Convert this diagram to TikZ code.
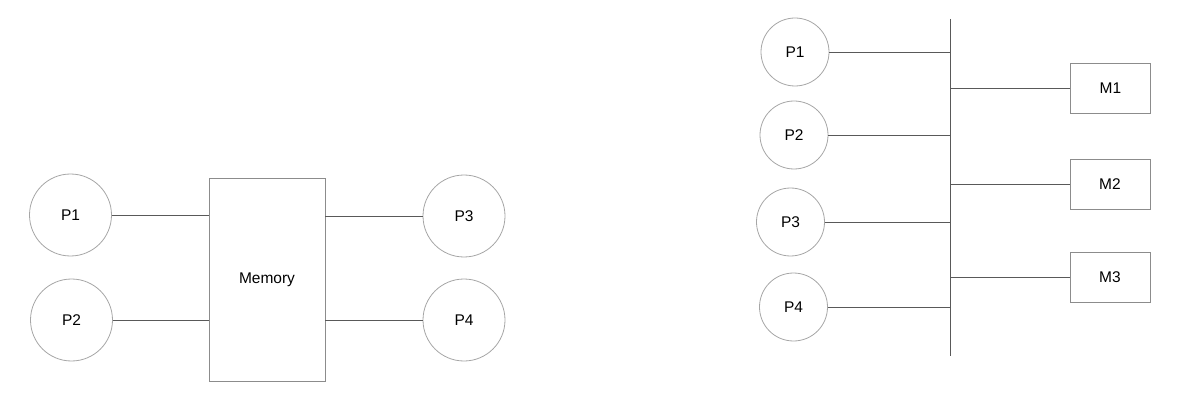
\documentclass[tikz,border=0pt]{standalone}
\usepackage{fontspec}
\setmainfont{Liberation Sans}
\usetikzlibrary{shapes}

\begin{document}
\begin{tikzpicture}[x=1pt, y=-1pt]

\tikzstyle{every node} = [font=\fontsize{15.5}{18}\selectfont, line width=0.8pt]
\tikzstyle{proc} = [circle, draw=black!35, minimum size=82pt, inner sep=0pt]
\tikzstyle{rproc} = [circle, draw=black!35, minimum size=68pt, inner sep=0pt]
\tikzstyle{mod} = [rectangle, draw=black!45, minimum width=80pt, minimum height=50pt]
\tikzstyle{wire} = [draw=black!65, line width=0.8pt]

\useasboundingbox (0,0) rectangle (1186,414);

% shared memory
\node (p1) [proc] at (70.5,215) {P1};
\node (p2) [proc] at (71.5,320) {P2};
\node (mem) [rectangle, draw=black!45, minimum width=116pt, minimum height=203pt] at (267,279.5) {Memory};
\node (p3) [proc] at (464,216) {P3};
\node (p4) [proc] at (464,320) {P4};

\draw[wire] (p1) -- (p1 -| mem.west);
\draw[wire] (p2) -- (p2 -| mem.west);
\draw[wire] (p3 -| mem.east) -- (p3);
\draw[wire] (p4 -| mem.east) -- (p4);

% bus
\coordinate (bt) at (950,19);
\coordinate (bb) at (950,356);
\draw[wire] (bt) -- (bb);

\node (q1) [rproc] at (795,52) {P1};
\node (q2) [rproc] at (794,135) {P2};
\node (q3) [rproc] at (790.5,222) {P3};
\node (q4) [rproc] at (793.5,307) {P4};

\node (m1) [mod] at (1110.5,88) {M1};
\node (m2) [mod] at (1110,184) {M2};
\node (m3) [mod] at (1110,277) {M3};

\draw[wire] (q1) -- (q1 -| bt);
\draw[wire] (q2) -- (q2 -| bt);
\draw[wire] (q3) -- (q3 -| bt);
\draw[wire] (q4) -- (q4 -| bt);
\draw[wire] (m1 -| bt) -- (m1);
\draw[wire] (m2 -| bt) -- (m2);
\draw[wire] (m3 -| bt) -- (m3);
\end{tikzpicture}
\end{document}
